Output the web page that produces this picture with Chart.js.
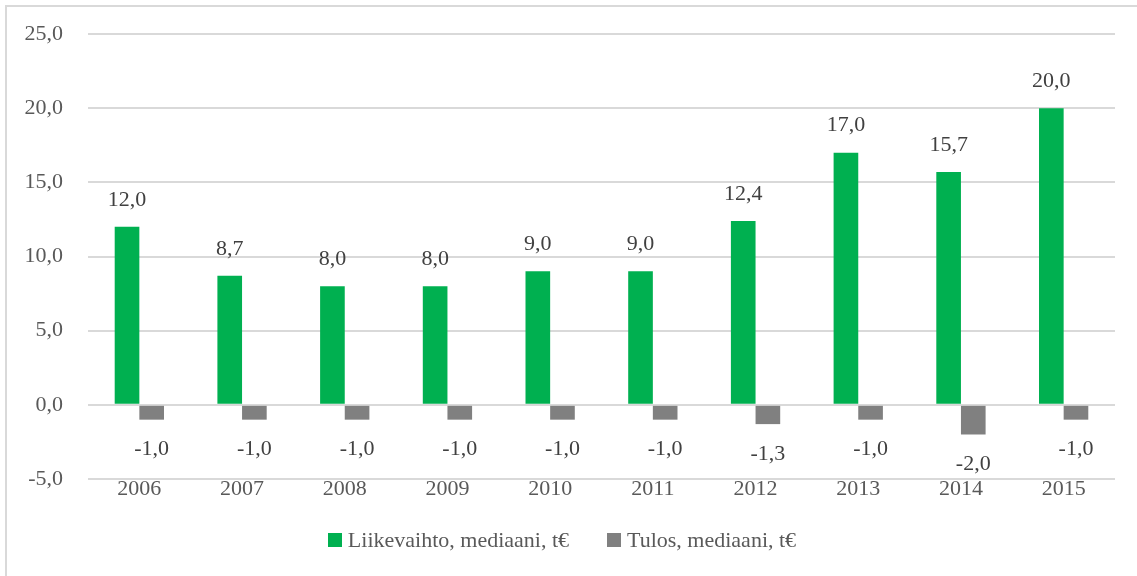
<!DOCTYPE html>
<html>
<head>
<meta charset="utf-8">
<script src="https://cdn.jsdelivr.net/npm/chart.js@4/dist/chart.umd.min.js"></script>
<style>
    html, body { margin: 0; padding: 0; background: #fff; overflow: hidden; }
    #frame {
        position: absolute; left: 5px; top: 5px; width: 1200px; height: 600px;
        border-left: 2px solid #d9d9d9; border-top: 2px solid #d9d9d9;
    }
    #wrap { position: absolute; left: 0; top: 0; width: 1137px; height: 576px; }
    #legend {
        position: absolute; left: 0; top: 527px; width: 1137px; box-sizing: border-box;
        padding-right: 13px; display: flex; justify-content: center; align-items: center;
        font-family: "Liberation Serif", "Times New Roman", serif; font-size: 22px; color: #595959;
        white-space: nowrap;
    }
    #legend .item { display: flex; align-items: center; }
    #legend .item + .item { margin-left: 38px; }
    #legend .box { display: inline-block; width: 14px; height: 14px; margin-right: 6px; }
</style>
</head>
<body>
<div id="frame"></div>
<div id="wrap"><canvas id="chart"></canvas></div>
<div id="legend"></div>
<script>
    // chart values
    const years      = ['2006', '2007', '2008', '2009', '2010', '2011', '2012', '2013', '2014', '2015'];
    const liikevaihto = [12.0, 8.7, 8.0, 8.0, 9.0, 9.0, 12.4, 17.0, 15.7, 20.0];
    const tulos       = [-1.0, -1.0, -1.0, -1.0, -1.0, -1.0, -1.3, -1.0, -2.0, -1.0];
    const yTicks      = [-5, 0, 5, 10, 15, 20, 25];

    const GREEN = '#00B050';
    const GREY  = '#808080';
    const TEXT  = '#595959';
    const FONT  = "'Liberation Serif', 'Times New Roman', serif";
    const SIZE  = 22;

    const fmt = v => v.toFixed(1).replace('.', ',');

    // data labels above / below each bar
    const barLabels = {
        id: 'barLabels',
        afterDatasetsDraw(chart) {
            const ctx = chart.ctx;
            ctx.save();
            ctx.font = SIZE + 'px ' + FONT;
            ctx.fillStyle = '#404040';
            ctx.textAlign = 'center';
            ctx.textBaseline = 'middle';
            chart.data.datasets.forEach((ds, i) => {
                chart.getDatasetMeta(i).data.forEach((bar, j) => {
                    const v = ds.data[j];
                    const y = v >= 0 ? bar.y - 27 : bar.y + 30;
                    ctx.fillText(fmt(v), bar.x, y);
                });
            });
            ctx.restore();
        }
    };

    const chart = new Chart(document.getElementById('chart'), {
        type: 'bar',
        data: {
            labels: years,
            datasets: [
                { label: 'Liikevaihto, mediaani, t€', data: liikevaihto, backgroundColor: GREEN },
                { label: 'Tulos, mediaani, t€', data: tulos, backgroundColor: GREY }
            ]
        },
        options: {
            responsive: true,
            maintainAspectRatio: false,
            animation: false,
            categoryPercentage: 0.48,
            barPercentage: 1.0,
            layout: { padding: { top: 34, right: 22, bottom: 57, left: 0 } },
            plugins: {
                legend: { display: false },
                tooltip: { enabled: false }
            },
            scales: {
                x: {
                    grid: { display: false },
                    border: { display: false },
                    ticks: { color: TEXT, font: { family: FONT, size: SIZE }, padding: -11, maxRotation: 0 },
                    afterFit: s => { s.height = 40; }
                },
                y: {
                    min: -5,
                    max: 25,
                    afterBuildTicks: s => { s.ticks = yTicks.map(v => ({ value: v })); },
                    grid: { color: '#d9d9d9', lineWidth: 2, drawTicks: false },
                    border: { display: false },
                    ticks: {
                        color: TEXT,
                        font: { family: FONT, size: SIZE },
                        padding: 25,
                        callback: v => fmt(v)
                    },
                    afterFit: s => {
                        s.width = 88;
                        s.paddingTop = 0;
                        s.paddingBottom = 0;
                    }
                }
            }
        },
        plugins: [barLabels]
    });

    // html legend built from the datasets
    const legend = document.getElementById('legend');
    chart.data.datasets.forEach(ds => {
        const item = document.createElement('div');
        item.className = 'item';
        const box = document.createElement('span');
        box.className = 'box';
        box.style.background = ds.backgroundColor;
        const label = document.createElement('span');
        label.textContent = ds.label;
        item.appendChild(box);
        item.appendChild(label);
        legend.appendChild(item);
    });
</script>
</body>
</html>
